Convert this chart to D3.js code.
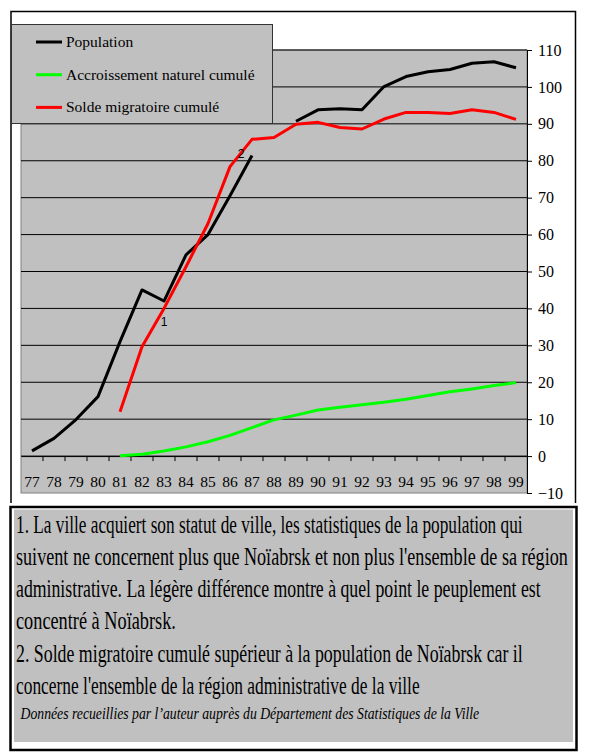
<!DOCTYPE html>
<html>
<head>
<meta charset="utf-8">
<script src="https://cdn.jsdelivr.net/npm/d3@7"></script>
<style>
  body { margin: 0; background: #fff; }
  svg { display: block; }
  .serif { font-family: "Liberation Serif", "Times New Roman", "DejaVu Serif", serif; }
  .sans { font-family: "Liberation Sans", Arial, "DejaVu Sans", sans-serif; }
</style>
</head>
<body>
<div class="canvas"></div>
<script>
// years (category axis)
const years = ['77','78','79','80','81','82','83','84','85','86','87','88','89','90','91','92','93','94','95','96','97','98','99'];

// series, null = no value
const population = [1.4, 4.8, 9.9, 16.1, 31, 45, 42, 54.5, 60, 70.5, 81.4, null, 90.7, 93.8, 94.1, 93.8, 100.1, 102.8, 104.1, 104.7, 106.4, 106.8, 105.2];
const naturel = [null, null, null, null, 0.1, 0.5, 1.4, 2.5, 3.9, 5.6, 7.7, 9.8, 11.1, 12.5, 13.2, 13.9, 14.6, 15.4, 16.4, 17.4, 18.2, 19.1, 19.9];
const migratoire = [null, null, null, null, 12, 29.6, 40, 51.3, 63, 78.4, 85.8, 86.3, 89.9, 90.4, 89, 88.6, 91.3, 93.1, 93.1, 92.8, 93.8, 93.1, 91.2];

const yTicks = [-10, 0, 10, 20, 30, 40, 50, 60, 70, 80, 90, 100, 110];

const seriesNames = ['Population', 'Accroissement naturel cumulé', 'Solde migratoire cumulé'];
const seriesColors = ['#000000', '#00ff00', '#ff0000'];

// notes "1" and "2" on the chart
const noteMarks = ['1', '2'];
const noteYears = ['83', '87'];
const noteValues = [36.5, 82];

const noteLines = [
  "1. La ville acquiert son statut de ville, les statistiques de la population qui",
  "suivent ne concernent plus que Noïabrsk et non plus l'ensemble de sa région",
  "administrative. La légère différence montre à quel point le peuplement est",
  "concentré à Noïabrsk.",
  "2. Solde migratoire cumulé supérieur à la population de Noïabrsk car il",
  "concerne l'ensemble de la région administrative de la ville"
];
const sourceLine = "Données recueillies par l\u2019auteur auprès du Département des Statistiques de la Ville";

// layout
const width = 590, height = 753;
const plot = {left: 21, right: 527, top: 50, bottom: 493};
const noteLineWidths = [507, 552, 525, 160, 507, 404];

const svg = d3.select('.canvas')
    .append('svg')
    .attr('width', width)
    .attr('height', height)

// outer chart frame (no bottom edge)
svg.append('path')
    .attr('d', 'M11,503 V11.5 H575.5 V503')
    .attr('fill', 'none')
    .attr('stroke', '#000')
    .attr('stroke-width', 1.5)

const x = d3.scaleBand().domain(years).range([plot.left, plot.right])
const y = d3.scaleLinear().domain([-10, 110]).range([plot.bottom, plot.top])

// plot area
svg.append('rect')
    .attr('x', plot.left)
    .attr('y', plot.top)
    .attr('width', plot.right - plot.left)
    .attr('height', plot.bottom - plot.top)
    .attr('fill', '#c0c0c0')
    .attr('stroke', '#808080')

svg.append('g')
    .selectAll('line')
    .data(yTicks.filter(d => d >= 0))
    .enter().append('line')
    .attr('x1', plot.left)
    .attr('x2', plot.right)
    .attr('y1', d => y(d))
    .attr('y2', d => y(d))
    .attr('stroke', '#000')

// right axis
const yAxisGroup = svg.append('g')
    .attr('transform', `translate(${plot.right}, 0)`)
    .call(d3.axisRight(y).tickValues(yTicks).tickSize(5).tickSizeOuter(0).tickPadding(6))
yAxisGroup.attr('font-family', null)
yAxisGroup.selectAll('text')
    .attr('class', 'serif')
    .attr('font-size', 16)
    .attr('fill', '#000')
yAxisGroup.select('.domain').attr('stroke', '#000')

// category axis at 0
const xAxisGroup = svg.append('g')
    .attr('transform', `translate(0, ${y(0)})`)
    .call(d3.axisBottom(x).tickSize(0).tickSizeOuter(0).tickPadding(20))
xAxisGroup.attr('font-family', null)
xAxisGroup.selectAll('text')
    .attr('class', 'serif')
    .attr('font-size', 15.5)
    .attr('fill', '#000')
xAxisGroup.select('.domain').attr('stroke', '#000')
xAxisGroup.selectAll('.boundary')
    .data(years.slice(1))
    .enter().append('line')
    .attr('class', 'boundary')
    .attr('x1', d => x(d))
    .attr('x2', d => x(d))
    .attr('y1', 0)
    .attr('y2', 5)
    .attr('stroke', '#000')

// series lines
const line = d3.line()
    .defined(d => d.v !== null)
    .x(d => x(d.year) + x.bandwidth() / 2)
    .y(d => y(d.v))

const series = [population, naturel, migratoire]
series.forEach((vals, i) => {
    svg.append('path')
        .datum(vals.map((v, j) => ({year: years[j], v: v})))
        .attr('d', line)
        .attr('fill', 'none')
        .attr('stroke', seriesColors[i])
        .attr('stroke-width', 3)
        .attr('stroke-linejoin', 'round')
})

// little note numbers
svg.selectAll('.mark')
    .data(noteMarks)
    .enter().append('text')
    .attr('class', 'mark sans')
    .attr('x', (d, i) => x(noteYears[i]) + x.bandwidth() / 2 - (i === 1 ? 11 : 0))
    .attr('y', (d, i) => y(noteValues[i]))
    .attr('dy', '0.35em')
    .attr('text-anchor', 'middle')
    .attr('font-size', 12)
    .text(d => d)

// legend
const legend = svg.append('g')
legend.append('rect')
    .attr('x', 11.5)
    .attr('y', 24.5)
    .attr('width', 261)
    .attr('height', 99)
    .attr('fill', '#c0c0c0')
    .attr('stroke', '#333')

const legendItems = legend.selectAll('.item')
    .data(seriesNames)
    .enter().append('g')
    .attr('class', 'item')
    .attr('transform', (d, i) => `translate(0, ${42 + i * 32.7})`)
legendItems.append('line')
    .attr('x1', 36)
    .attr('x2', 62)
    .attr('stroke', (d, i) => seriesColors[i])
    .attr('stroke-width', 3)
legendItems.append('text')
    .attr('class', 'serif')
    .attr('x', 66)
    .attr('y', 5)
    .attr('font-size', 15.5)
    .attr('fill', '#000')
    .text(d => d)

// notes box
svg.append('rect')
    .attr('x', 10.5)
    .attr('y', 507)
    .attr('width', 566)
    .attr('height', 243)
    .attr('fill', '#fff')
    .attr('stroke', '#000')
    .attr('stroke-width', 2.5)
svg.append('rect')
    .attr('x', 14)
    .attr('y', 509.5)
    .attr('width', 559)
    .attr('height', 232.5)
    .attr('fill', '#c0c0c0')

// condensed text: squeeze each line to its width in the picture
const squeeze = (sel, w) => {
    sel.each(function(d, i) {
        const len = this.getComputedTextLength()
        const target = typeof w === 'function' ? w(d, i) : w
        const g = d3.select(this)
        g.attr('transform', `${g.attr('data-pos')} scale(${target / len}, 1)`)
    })
}

svg.selectAll('.note')
    .data(noteLines)
    .enter().append('text')
    .attr('class', 'note serif')
    .attr('data-pos', (d, i) => `translate(16, ${532.5 + i * 32.3})`)
    .attr('font-size', 25)
    .attr('fill', '#000')
    .text(d => d)
    .call(squeeze, (d, i) => noteLineWidths[i])

svg.append('text')
    .datum(sourceLine)
    .attr('class', 'serif')
    .attr('data-pos', 'translate(20.5, 719.3)')
    .attr('font-style', 'italic')
    .attr('font-size', 16.5)
    .attr('fill', '#000')
    .text(d => d)
    .call(squeeze, 459)
</script>
</body>
</html>
